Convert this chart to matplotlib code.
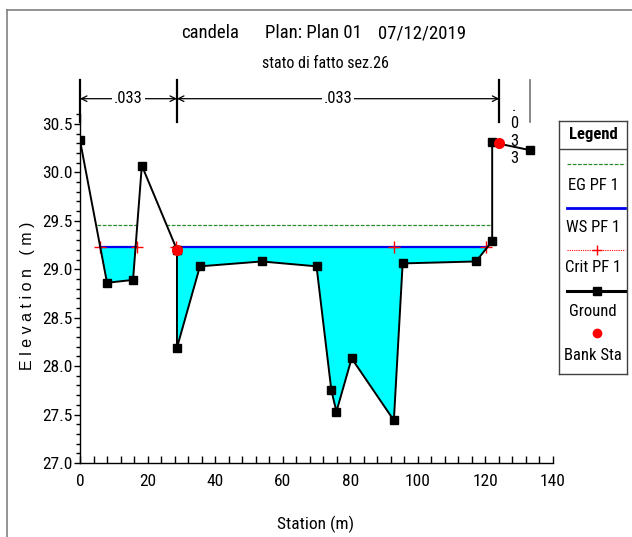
import numpy as np
import matplotlib
matplotlib.use("Agg")
import matplotlib.pyplot as plt
from matplotlib.ticker import MultipleLocator, FormatStrFormatter

plt.rcParams['font.family'] = ['Roboto Condensed', 'Liberation Sans', 'DejaVu Sans']

# cross section geometry (station, elevation)
station = [0.0, 8.0, 15.7, 18.3, 28.7, 28.7, 35.5, 53.8, 70.0, 74.4, 75.9, 80.4,
           92.9, 95.5, 117.2, 122.0, 122.0, 133.1]
elevation = [30.33, 28.86, 28.89, 30.07, 29.20, 28.19, 29.03, 29.08, 29.03, 27.75,
             27.53, 28.08, 27.44, 29.06, 29.08, 29.29, 30.31, 30.23]

bank_sta = [28.7, 124.1]
bank_elev = [29.20, 30.30]

# profile PF 1
ws_elev = 29.23
eg_elev = 29.46
ws_extents = [(5.9, 16.8), (28.4, 120.2)]
eg_extents = [(4.9, 16.9), (25.6, 122.0)]
crit_sta = [5.9, 16.8, 28.4, 93.0, 120.2]

# manning's n breaks (section ends and bank stations)
n_sta = [0.0, 28.7, 124.1, 133.1]
n_vals = [".033", ".033", ".033"]

W, H = 632, 537


def px_x(x):
    return x / W


def px_y(y):
    return 1 - y / H


def draw_manning(ax):
    """
    Draws the n value zones above the plot
    """
    y_top, y_bot, y_arr = 30.95, 30.52, 30.76
    for i, s in enumerate(n_sta):
        col = '0.45' if i == len(n_sta) - 1 else 'black'
        ax.plot([s, s], [y_bot, y_top], color=col, lw=1.6 if col == 'black' else 1.2,
                clip_on=False)
    for i, n in enumerate(n_vals):
        a, b = n_sta[i], n_sta[i + 1]
        mid = (a + b) / 2
        if b - a > 20:
            ax.annotate('', xy=(a, y_arr), xytext=(mid, y_arr), annotation_clip=False,
                        arrowprops=dict(arrowstyle='->', lw=0.9, color='black',
                                        shrinkA=0, shrinkB=0))
            ax.annotate('', xy=(b, y_arr), xytext=(mid, y_arr), annotation_clip=False,
                        arrowprops=dict(arrowstyle='->', lw=0.9, color='black',
                                        shrinkA=0, shrinkB=0))
            ax.text(mid, y_arr, n, ha='center', va='center', fontsize=12,
                    bbox=dict(facecolor='white', edgecolor='none', pad=1.5), clip_on=False)
        else:
            # too narrow for the label, stack it vertically
            ax.text(mid, 30.41, "\n".join(n), ha='center', va='center',
                    fontsize=12, linespacing=1.2, clip_on=False)


def draw_legend(fig):
    """
    Draws the HEC-RAS style legend box on the right
    """
    lx0, lx1, ly0, ly1 = 559, 627, 121, 374
    lg = fig.add_axes([px_x(lx0), px_y(ly1), px_x(lx1 - lx0), (ly1 - ly0) / H])
    lg.set_xlim(lx0, lx1)
    lg.set_ylim(ly1, ly0)
    lg.set_xticks([])
    lg.set_yticks([])
    for sp in lg.spines.values():
        sp.set_color('0.25')
        sp.set_linewidth(1.0)
    lg.axhline(149, color='0.25', lw=1.0)
    lg.text(593, 134.5, 'Legend', ha='center', va='center', fontsize=12, fontweight='bold')
    x0, x1, xm = 566.5, 625, 596.5
    lg.plot([x0, x1], [163.5, 163.5], color='#2e8b2e', lw=0.9, ls=(0, (3, 1.2)))
    lg.text(593, 185, 'EG PF 1', ha='center', va='center', fontsize=12)
    lg.plot([x0, x1], [207.5, 207.5], color='#0000ee', lw=2)
    lg.text(593, 228, 'WS PF 1', ha='center', va='center', fontsize=12)
    lg.plot([x0, x1], [250, 250], color='red', lw=0.8, ls=(0, (1, 1)))
    lg.plot([xm], [250], marker='+', color='red', ms=7, mew=1)
    lg.text(593, 268, 'Crit PF 1', ha='center', va='center', fontsize=12)
    lg.plot([x0, x1], [291, 291], color='black', lw=2.2)
    lg.plot([xm], [291], marker='s', color='black', ms=6)
    lg.text(593, 312, 'Ground', ha='center', va='center', fontsize=12)
    lg.plot([xm], [333], marker='o', color='red', ms=7, mec='none')
    lg.text(593, 355, 'Bank Sta', ha='center', va='center', fontsize=12)


def plot_cross_section():
    """
    Plots the cross section with water surface, energy grade and critical depth
    """
    fig = plt.figure(figsize=(W / 100, H / 100), dpi=100)
    ax = fig.add_axes([px_x(80), px_y(463), px_x(553 - 80), (463 - 114.2) / H])

    sta = np.array(station)
    elev = np.array(elevation)

    # wetted area
    ax.fill_between(sta, elev, ws_elev, where=elev <= ws_elev, interpolate=True,
                    color='#00ffff', lw=0, zorder=1)

    for a, b in eg_extents:
        ax.plot([a, b], [eg_elev, eg_elev], color='#2e8b2e', lw=0.9, ls=(0, (3, 1.2)), zorder=2)
    for a, b in ws_extents:
        ax.plot([a, b], [ws_elev, ws_elev], color='red', lw=0.8, ls=(0, (1, 1)), zorder=2)
        ax.plot([a, b], [ws_elev, ws_elev], color='#0000ee', lw=1.6, zorder=3)
    ax.plot(crit_sta, [ws_elev] * len(crit_sta), ls='none', marker='+', color='red',
            ms=9, mew=1, zorder=4)

    ax.plot(sta, elev, color='black', lw=1.4, marker='s', ms=6, zorder=5)
    ax.plot(bank_sta, bank_elev, ls='none', marker='o', color='red', ms=8, mec='none',
            zorder=6)

    ax.set_xlim(0, 140)
    ax.set_ylim(27, 30.6)
    ax.spines['top'].set_visible(False)
    ax.spines['right'].set_visible(False)
    for sp in ('left', 'bottom'):
        ax.spines[sp].set_linewidth(1.0)
    ax.xaxis.set_major_locator(MultipleLocator(20))
    ax.xaxis.set_minor_locator(MultipleLocator(4))
    ax.yaxis.set_major_locator(MultipleLocator(0.5))
    ax.yaxis.set_minor_locator(MultipleLocator(0.1))
    ax.yaxis.set_major_formatter(FormatStrFormatter('%.1f'))
    ax.tick_params(axis='x', which='both', direction='in', length=5, width=1, labelsize=12.5, pad=8)
    ax.tick_params(axis='y', which='major', direction='out', length=4, width=1, labelsize=12.5, pad=1)
    ax.tick_params(axis='y', which='minor', direction='out', length=3, width=1)

    draw_manning(ax)

    fig.text(px_x(181), px_y(33), 'candela', ha='left', va='center', fontsize=13.5)
    fig.text(px_x(265), px_y(33), 'Plan: Plan 01', ha='left', va='center', fontsize=13.5)
    fig.text(px_x(378), px_y(33), '07/12/2019', ha='left', va='center', fontsize=13.5)
    fig.text(px_x(325), px_y(63), 'stato di fatto sez.26', ha='center', va='center', fontsize=11.5)
    fig.text(px_x(316), px_y(524), 'Station (m)', ha='center', va='center', fontsize=12.5)
    fig.text(px_x(28), px_y(296), 'E l e v a t i o n   ( m )', ha='center', va='center',
             rotation=90, fontsize=11.5, family=['Liberation Sans', 'DejaVu Sans'])

    # outer frame
    fig.add_artist(plt.Line2D([px_x(6.5), px_x(6.5)], [0, px_y(10)], color='0.5', lw=1.2,
                              transform=fig.transFigure))
    fig.add_artist(plt.Line2D([px_x(6.5), 1], [px_y(10), px_y(10)], color='0.5', lw=1.2,
                              transform=fig.transFigure))

    draw_legend(fig)
    fig.savefig('out.png', dpi=100)


if __name__ == '__main__':
    plot_cross_section()
